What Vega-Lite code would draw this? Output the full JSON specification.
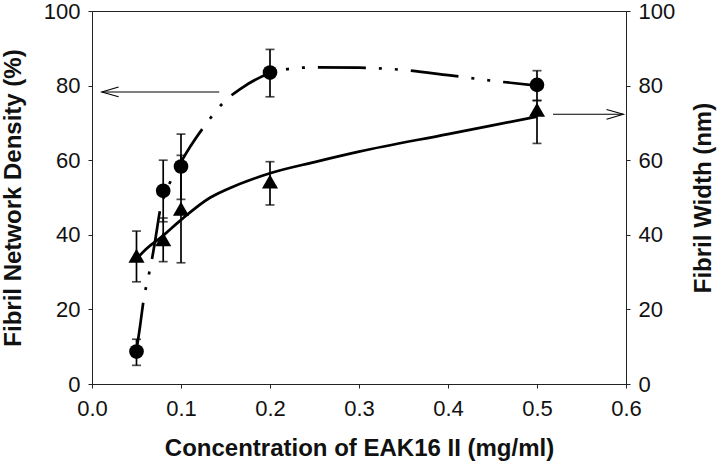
{
  "$schema": "https://vega.github.io/schema/vega-lite/v6.json",
  "autosize": {"type": "none"},
  "padding": {"left": 92, "top": 11, "right": 94, "bottom": 84},
  "width": 534,
  "height": 373,
  "background": "white",
  "config": {
    "font": "Liberation Sans",
    "view": {"stroke": "#222", "strokeWidth": 1},
    "scale": {"continuousPadding": 0},
    "axis": {
      "grid": false,
      "labelFlush": false,
      "labelOverlap": false,
      "domainColor": "#222",
      "tickColor": "#222",
      "tickSize": 4,
      "labelFont": "Liberation Sans",
      "labelFontSize": 22,
      "labelColor": "#111",
      "labelPadding": 8,
      "titleFont": "Liberation Sans",
      "titleFontSize": 24,
      "titleFontWeight": "bold",
      "titleColor": "#111"
    }
  },
  "datasets": {
    "density": [
      {"conc": 0.05, "value": 8.7, "lo": 5, "hi": 12},
      {"conc": 0.08, "value": 51.8, "lo": 43.5, "hi": 60},
      {"conc": 0.1, "value": 58.3, "lo": 49.5, "hi": 67},
      {"conc": 0.2, "value": 83.5, "lo": 77, "hi": 89.7},
      {"conc": 0.5, "value": 80.2, "lo": 76, "hi": 84}
    ],
    "width": [
      {"conc": 0.05, "value": 34.4, "lo": 27.4, "hi": 41},
      {"conc": 0.08, "value": 38.8, "lo": 32.8, "hi": 44.5},
      {"conc": 0.1, "value": 47, "lo": 32.5, "hi": 61.3},
      {"conc": 0.2, "value": 54.3, "lo": 48, "hi": 59.6},
      {"conc": 0.5, "value": 73.5, "lo": 64.5, "hi": 76}
    ],
    "densityCurve": [
      {"conc": 0.05, "value": 9},
      {"conc": 0.054, "value": 15.5},
      {"conc": 0.058, "value": 22.5},
      {"conc": 0.064, "value": 29.5},
      {"conc": 0.067, "value": 33},
      {"conc": 0.072, "value": 40},
      {"conc": 0.076, "value": 46},
      {"conc": 0.085, "value": 52.5},
      {"conc": 0.1, "value": 59.5},
      {"conc": 0.129, "value": 70},
      {"conc": 0.15, "value": 76},
      {"conc": 0.166, "value": 79},
      {"conc": 0.2, "value": 83.3},
      {"conc": 0.226, "value": 84.6},
      {"conc": 0.25, "value": 84.9},
      {"conc": 0.3, "value": 84.8},
      {"conc": 0.35, "value": 84.2},
      {"conc": 0.4, "value": 82.8},
      {"conc": 0.45, "value": 81.3},
      {"conc": 0.5, "value": 80}
    ],
    "widthCurve": [
      {"conc": 0.048, "value": 33},
      {"conc": 0.06, "value": 36},
      {"conc": 0.08, "value": 39.8},
      {"conc": 0.1, "value": 44},
      {"conc": 0.133, "value": 50},
      {"conc": 0.15, "value": 52},
      {"conc": 0.2, "value": 56.5},
      {"conc": 0.25, "value": 59.5},
      {"conc": 0.3, "value": 62.3},
      {"conc": 0.4, "value": 67},
      {"conc": 0.5, "value": 71.7}
    ],
    "arrowLeft": [{"from": 0.143, "to": 0.011, "value": 78.3}],
    "arrowRight": [{"from": 0.518, "to": 0.597, "value": 72.3}]
  },
  "layer": [
    {
      "encoding": {
        "x": {
          "field": "conc", "type": "quantitative",
          "scale": {"domain": [0, 0.6], "nice": false, "zero": false, "padding": 0},
          "axis": {
            "values": [0, 0.1, 0.2, 0.3, 0.4, 0.5, 0.6],
            "format": ".1f",
            "title": "Concentration of EAK16 II (mg/ml)",
            "labelPadding": 10,
            "titlePadding": 17
          }
        },
        "y": {
          "field": "value", "type": "quantitative",
          "scale": {"domain": [0, 100], "nice": false, "padding": 0},
          "axis": {
            "orient": "left",
            "values": [0, 20, 40, 60, 80, 100],
            "title": "Fibril Network Density (%)",
            "titlePadding": 18
          }
        }
      },
      "layer": [
        {
          "data": {"name": "densityCurve"},
          "mark": {"type": "line", "interpolate": "monotone", "color": "black", "strokeWidth": 2.7, "strokeDash": [48, 13, 3, 13, 3, 13]}
        },
        {
          "data": {"name": "density"},
          "mark": {"type": "rule", "color": "black", "strokeWidth": 1.7},
          "encoding": {"y": {"field": "lo", "type": "quantitative"}, "y2": {"field": "hi"}}
        },
        {
          "data": {"name": "density"},
          "mark": {"type": "tick", "orient": "horizontal", "color": "black", "size": 9, "thickness": 1.7},
          "encoding": {"y": {"field": "lo", "type": "quantitative"}}
        },
        {
          "data": {"name": "density"},
          "mark": {"type": "tick", "orient": "horizontal", "color": "black", "size": 9, "thickness": 1.7},
          "encoding": {"y": {"field": "hi", "type": "quantitative"}}
        },
        {
          "data": {"name": "density"},
          "mark": {"type": "point", "shape": "circle", "filled": true, "color": "black", "size": 215, "opacity": 1}
        },
        {
          "data": {"name": "arrowLeft"},
          "mark": {"type": "rule", "color": "black", "strokeWidth": 1.1},
          "encoding": {"x": {"field": "from", "type": "quantitative"}, "x2": {"field": "to"}}
        },
        {
          "data": {"name": "arrowLeft"},
          "mark": {"type": "point", "shape": "M2.4,-0.7L0,0L2.4,0.7", "filled": false, "color": "black", "strokeWidth": 1.1, "size": 196, "opacity": 1},
          "encoding": {"x": {"field": "to", "type": "quantitative"}}
        }
      ]
    },
    {
      "encoding": {
        "x": {
          "field": "conc", "type": "quantitative",
          "scale": {"domain": [0, 0.6], "nice": false, "zero": false, "padding": 0}
        },
        "y": {
          "field": "value", "type": "quantitative",
          "scale": {"domain": [0, 100], "nice": false, "padding": 0},
          "axis": {
            "orient": "right",
            "values": [0, 20, 40, 60, 80, 100],
            "title": "Fibril Width (nm)",
            "titleAngle": -90,
            "titleBaseline": "top",
            "titlePadding": 17
          }
        }
      },
      "layer": [
        {
          "data": {"name": "widthCurve"},
          "mark": {"type": "line", "interpolate": "monotone", "color": "black", "strokeWidth": 2.7}
        },
        {
          "data": {"name": "width"},
          "mark": {"type": "rule", "color": "black", "strokeWidth": 1.7},
          "encoding": {"y": {"field": "lo", "type": "quantitative"}, "y2": {"field": "hi"}}
        },
        {
          "data": {"name": "width"},
          "mark": {"type": "tick", "orient": "horizontal", "color": "black", "size": 9, "thickness": 1.7},
          "encoding": {"y": {"field": "lo", "type": "quantitative"}}
        },
        {
          "data": {"name": "width"},
          "mark": {"type": "tick", "orient": "horizontal", "color": "black", "size": 9, "thickness": 1.7},
          "encoding": {"y": {"field": "hi", "type": "quantitative"}}
        },
        {
          "data": {"name": "width"},
          "mark": {"type": "point", "shape": "triangle-up", "filled": true, "color": "black", "size": 260, "opacity": 1}
        },
        {
          "data": {"name": "arrowRight"},
          "mark": {"type": "rule", "color": "black", "strokeWidth": 1.1},
          "encoding": {"x": {"field": "from", "type": "quantitative"}, "x2": {"field": "to"}}
        },
        {
          "data": {"name": "arrowRight"},
          "mark": {"type": "point", "shape": "M-2.4,-0.7L0,0L-2.4,0.7", "filled": false, "color": "black", "strokeWidth": 1.1, "size": 196, "opacity": 1},
          "encoding": {"x": {"field": "to", "type": "quantitative"}}
        }
      ]
    }
  ],
  "resolve": {"scale": {"y": "independent"}}
}
